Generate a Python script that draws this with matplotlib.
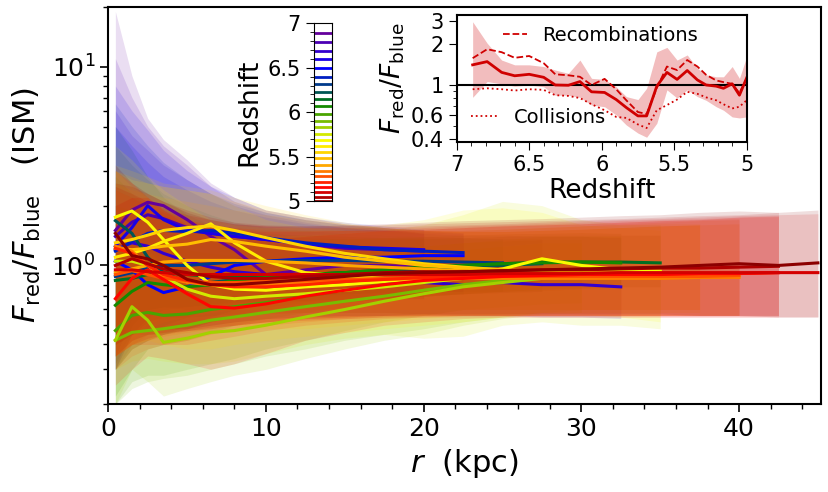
import numpy as np
import matplotlib
matplotlib.use('Agg')
from matplotlib import pyplot as plt
from matplotlib.colors import LinearSegmentedColormap, Normalize
from matplotlib.ticker import MultipleLocator, FixedLocator, NullFormatter

# snapshot redshifts (high -> low)
redshift = [6.89, 6.79, 6.69, 6.60, 6.50, 6.40, 6.32, 6.23, 6.15, 6.07, 5.98, 5.90, 5.83,
            5.75, 5.69, 5.62, 5.55, 5.48, 5.41, 5.34, 5.28, 5.21, 5.16, 5.10, 5.05, 5.00]

# radial bins (kpc); each profile uses the first len(profile) bins
radius = [0.45, 1.5, 2.5, 3.5, 5, 6.5, 8, 10, 12.5, 15, 17.5, 20, 22.5, 25, 27.5, 30,
          32.5, 35, 37.5, 40, 42.5, 45]

# median F_red/F_blue profile per snapshot
ratio_med = [
    [1.50, 1.90, 2.08, 2.00, 1.70, 1.40, 1.20, 0.90, 0.95, 1.00, 1.00, 0.98],
    [1.40, 1.65, 1.80, 1.72, 1.55, 1.45, 1.40, 1.35, 1.28, 1.22, 1.20, 1.18],
    [1.20, 1.30, 1.25, 1.15, 1.05, 0.98, 0.93, 0.90, 0.88, 0.85, 0.83, 0.82, 0.80, 0.82, 0.80, 0.80, 0.78],
    [1.25, 1.55, 2.00, 1.70, 1.50, 1.45, 1.40, 1.35, 1.28, 1.24, 1.22, 1.20],
    [1.05, 0.95, 0.80, 0.73, 0.78, 0.88, 1.00, 1.05, 1.08, 1.10, 1.10, 1.12, 1.12],
    [1.18, 1.32, 1.45, 1.50, 1.48, 1.50, 1.45, 1.38, 1.30, 1.25, 1.20, 1.18, 1.16],
    [0.88, 0.92, 0.98, 1.00, 1.00, 1.02, 1.04, 1.05, 1.06, 1.06, 1.05, 1.05, 1.04, 1.03],
    [1.68, 1.45, 1.10, 0.92, 0.82, 0.82, 0.85, 0.88, 0.90, 0.92, 0.94, 0.96, 0.98, 1.00, 1.02],
    [0.84, 0.86, 0.90, 0.92, 0.90, 0.88, 0.88, 0.88, 0.90, 0.92, 0.95, 0.98, 1.00, 1.02, 1.04, 1.04, 1.04, 1.03],
    [0.63, 0.74, 0.82, 0.80, 0.78, 0.80, 0.84, 0.87, 0.90, 0.92, 0.95, 0.98, 1.00, 1.02, 1.03, 1.04, 1.03],
    [0.47, 0.56, 0.58, 0.56, 0.57, 0.60, 0.62, 0.65, 0.70, 0.75, 0.80, 0.85, 0.88, 0.90, 0.92, 0.92],
    [0.42, 0.46, 0.47, 0.48, 0.50, 0.53, 0.55, 0.58, 0.62, 0.66, 0.70, 0.75, 0.80, 0.84, 0.87, 0.88, 0.88],
    [0.42, 0.62, 0.53, 0.41, 0.43, 0.46, 0.47, 0.50, 0.55, 0.60, 0.66, 0.72, 0.78, 0.82, 0.86, 0.88],
    [1.05, 1.05, 1.00, 0.88, 0.76, 0.70, 0.68, 0.70, 0.72, 0.75, 0.78, 0.82, 0.86, 0.90, 0.94, 0.95, 0.95, 0.94],
    [1.75, 1.88, 1.65, 1.35, 1.00, 0.80, 0.76, 0.75, 0.78, 0.80, 0.83, 0.86, 0.90, 0.96, 1.08, 1.00, 0.95, 0.93],
    [1.10, 1.15, 1.22, 1.32, 1.45, 1.62, 1.30, 1.05, 0.92, 0.88, 0.86, 0.86, 0.88, 0.88, 0.90, 0.90, 0.90, 0.90, 0.90],
    [1.30, 1.35, 1.42, 1.50, 1.55, 1.58, 1.50, 1.38, 1.25, 1.15, 1.08, 1.02, 0.98, 0.95, 0.92, 0.90, 0.90, 0.89, 0.89],
    [1.22, 1.20, 1.22, 1.25, 1.28, 1.35, 1.32, 1.25, 1.18, 1.10, 1.05, 1.00, 0.97, 0.95, 0.93, 0.92, 0.91, 0.90, 0.90],
    [0.92, 0.96, 1.00, 1.04, 1.06, 1.06, 1.06, 1.05, 1.03, 1.00, 0.98, 0.96, 0.94, 0.92, 0.90, 0.89, 0.88, 0.88, 0.88, 0.88],
    [1.25, 1.18, 1.00, 0.88, 0.82, 0.80, 0.80, 0.80, 0.82, 0.84, 0.85, 0.86, 0.86, 0.86, 0.86, 0.86, 0.86, 0.86, 0.87, 0.87],
    [0.90, 0.94, 0.90, 0.86, 0.84, 0.82, 0.82, 0.83, 0.84, 0.85, 0.86, 0.87, 0.87, 0.88, 0.88, 0.88, 0.88, 0.88, 0.88, 0.89],
    [1.22, 1.15, 1.00, 0.90, 0.84, 0.80, 0.78, 0.78, 0.80, 0.83, 0.85, 0.87, 0.88, 0.90, 0.90, 0.90, 0.91, 0.91, 0.91, 0.91, 0.92],
    [0.68, 0.86, 0.95, 0.85, 0.72, 0.62, 0.61, 0.64, 0.70, 0.75, 0.80, 0.84, 0.86, 0.88, 0.89, 0.90, 0.90, 0.90, 0.91, 0.91, 0.92],
    [0.95, 0.95, 0.93, 0.92, 0.90, 0.90, 0.90, 0.90, 0.90, 0.90, 0.90, 0.90, 0.90, 0.91, 0.91, 0.91, 0.92, 0.92, 0.92, 0.92, 0.92, 0.92],
    [1.00, 1.08, 1.02, 0.96, 0.92, 0.88, 0.86, 0.86, 0.88, 0.90, 0.92, 0.93, 0.93, 0.94, 0.95, 0.95, 0.96, 0.97, 0.97, 0.98, 0.99],
    [1.45, 1.12, 1.08, 1.00, 0.85, 0.80, 0.80, 0.82, 0.85, 0.88, 0.91, 0.92, 0.93, 0.94, 0.95, 0.96, 0.97, 0.98, 1.00, 1.02, 1.00, 1.03],
]

# upper envelope of the scatter
ratio_hi = [
    [19, 9.0, 5.5, 4.3, 3.4, 2.6, 2.2, 1.9, 1.75, 1.62, 1.55, 1.45],
    [11, 7.0, 5.0, 4.0, 3.2, 2.5, 2.1, 1.85, 1.7, 1.6, 1.52, 1.45],
    [6.0, 4.5, 3.8, 3.2, 2.7, 2.3, 2.0, 1.8, 1.65, 1.55, 1.5, 1.45, 1.42, 1.42, 1.4, 1.4, 1.38],
    [8.0, 6.0, 4.8, 3.8, 3.0, 2.5, 2.2, 1.9, 1.75, 1.65, 1.58, 1.52],
    [5.0, 4.0, 3.3, 2.8, 2.4, 2.1, 1.9, 1.75, 1.62, 1.55, 1.5, 1.48, 1.45],
    [6.5, 5.0, 4.0, 3.3, 2.7, 2.3, 2.05, 1.85, 1.7, 1.6, 1.55, 1.5, 1.46],
    [4.0, 3.2, 2.7, 2.3, 2.0, 1.8, 1.65, 1.55, 1.5, 1.45, 1.42, 1.4, 1.38, 1.36],
    [5.0, 3.8, 2.8, 2.2, 1.8, 1.6, 1.5, 1.45, 1.42, 1.4, 1.38, 1.37, 1.36, 1.36, 1.36],
    [2.8, 2.3, 2.0, 1.8, 1.6, 1.5, 1.45, 1.4, 1.38, 1.36, 1.36, 1.37, 1.38, 1.4, 1.42, 1.42, 1.42, 1.42],
    [2.0, 1.9, 1.8, 1.65, 1.5, 1.42, 1.38, 1.35, 1.35, 1.36, 1.38, 1.4, 1.42, 1.44, 1.45, 1.46, 1.45],
    [1.6, 1.5, 1.4, 1.3, 1.2, 1.15, 1.12, 1.1, 1.12, 1.15, 1.2, 1.25, 1.3, 1.33, 1.35, 1.35],
    [1.2, 1.2, 1.15, 1.1, 1.05, 1.05, 1.05, 1.08, 1.12, 1.16, 1.2, 1.25, 1.3, 1.35, 1.4, 1.4, 1.4],
    [1.3, 1.35, 1.2, 1.0, 0.95, 0.95, 0.95, 0.98, 1.0, 1.05, 1.1, 1.15, 1.2, 1.25, 1.3, 1.3],
    [3.0, 2.5, 2.2, 1.9, 1.6, 1.45, 1.4, 1.4, 1.42, 1.45, 1.5, 1.6, 1.8, 2.1, 2.0, 1.7, 1.6, 1.6],
    [4.0, 3.4, 2.8, 2.4, 2.0, 1.7, 1.6, 1.55, 1.55, 1.55, 1.6, 1.7, 1.9, 1.95, 1.85, 1.6, 1.55, 1.5],
    [3.0, 2.7, 2.6, 2.5, 2.4, 2.3, 2.0, 1.7, 1.55, 1.5, 1.48, 1.48, 1.5, 1.52, 1.55, 1.58, 1.6, 1.62, 1.62],
    [3.2, 3.0, 2.8, 2.6, 2.5, 2.4, 2.2, 2.0, 1.8, 1.65, 1.55, 1.5, 1.48, 1.48, 1.5, 1.52, 1.55, 1.58, 1.6],
    [3.0, 2.8, 2.6, 2.5, 2.4, 2.3, 2.1, 1.9, 1.75, 1.62, 1.55, 1.5, 1.48, 1.48, 1.5, 1.52, 1.55, 1.58, 1.6],
    [2.6, 2.4, 2.3, 2.2, 2.1, 2.0, 1.9, 1.8, 1.7, 1.62, 1.55, 1.5, 1.48, 1.48, 1.5, 1.52, 1.55, 1.58, 1.6, 1.62],
    [3.0, 2.6, 2.2, 1.9, 1.7, 1.6, 1.55, 1.52, 1.5, 1.5, 1.5, 1.5, 1.5, 1.52, 1.55, 1.58, 1.62, 1.65, 1.68, 1.7],
    [2.4, 2.2, 2.0, 1.85, 1.7, 1.6, 1.55, 1.5, 1.5, 1.5, 1.5, 1.52, 1.55, 1.58, 1.6, 1.62, 1.65, 1.68, 1.7, 1.72],
    [3.0, 2.6, 2.2, 1.9, 1.7, 1.55, 1.5, 1.48, 1.48, 1.5, 1.52, 1.55, 1.58, 1.6, 1.62, 1.65, 1.68, 1.7, 1.72, 1.75, 1.76],
    [2.0, 2.2, 2.2, 1.9, 1.6, 1.4, 1.35, 1.35, 1.4, 1.45, 1.5, 1.52, 1.55, 1.58, 1.6, 1.62, 1.65, 1.68, 1.7, 1.75, 1.78],
    [2.5, 2.3, 2.1, 1.95, 1.8, 1.7, 1.62, 1.58, 1.55, 1.55, 1.56, 1.58, 1.6, 1.62, 1.65, 1.68, 1.7, 1.72, 1.75, 1.78, 1.8, 1.82],
    [2.6, 2.5, 2.3, 2.1, 1.9, 1.75, 1.65, 1.6, 1.58, 1.58, 1.6, 1.62, 1.64, 1.66, 1.68, 1.7, 1.72, 1.75, 1.78, 1.8, 1.85],
    [3.2, 2.6, 2.3, 2.1, 1.85, 1.7, 1.62, 1.58, 1.58, 1.6, 1.62, 1.65, 1.68, 1.7, 1.72, 1.75, 1.78, 1.8, 1.85, 1.88, 1.85, 1.9],
]

# lower envelope of the scatter
ratio_lo = [
    [0.35, 0.55, 0.6, 0.62, 0.6, 0.6, 0.62, 0.62, 0.65, 0.66, 0.68, 0.68],
    [0.3, 0.5, 0.6, 0.62, 0.62, 0.63, 0.64, 0.65, 0.66, 0.67, 0.68, 0.68],
    [0.3, 0.45, 0.52, 0.55, 0.55, 0.56, 0.57, 0.58, 0.58, 0.58, 0.58, 0.57, 0.56, 0.56, 0.55, 0.55, 0.54],
    [0.3, 0.45, 0.55, 0.6, 0.62, 0.64, 0.65, 0.66, 0.67, 0.68, 0.7, 0.7],
    [0.3, 0.38, 0.42, 0.45, 0.5, 0.55, 0.6, 0.65, 0.68, 0.7, 0.72, 0.72, 0.72],
    [0.32, 0.45, 0.55, 0.6, 0.62, 0.64, 0.66, 0.68, 0.7, 0.72, 0.73, 0.74, 0.74],
    [0.3, 0.4, 0.45, 0.5, 0.55, 0.6, 0.64, 0.68, 0.7, 0.72, 0.73, 0.74, 0.74, 0.74],
    [0.35, 0.45, 0.45, 0.45, 0.48, 0.52, 0.56, 0.6, 0.63, 0.66, 0.68, 0.7, 0.72, 0.73, 0.74],
    [0.3, 0.38, 0.42, 0.45, 0.48, 0.52, 0.55, 0.58, 0.62, 0.65, 0.68, 0.7, 0.72, 0.74, 0.76, 0.77, 0.78, 0.78],
    [0.22, 0.3, 0.38, 0.4, 0.42, 0.46, 0.5, 0.54, 0.58, 0.62, 0.66, 0.7, 0.72, 0.74, 0.75, 0.76, 0.76],
    [0.2, 0.26, 0.28, 0.28, 0.3, 0.32, 0.34, 0.38, 0.42, 0.47, 0.52, 0.56, 0.6, 0.62, 0.64, 0.65],
    [0.2, 0.24, 0.26, 0.27, 0.28, 0.3, 0.32, 0.35, 0.38, 0.42, 0.45, 0.48, 0.52, 0.55, 0.58, 0.6, 0.6],
    [0.2, 0.3, 0.26, 0.22, 0.24, 0.26, 0.28, 0.3, 0.34, 0.38, 0.42, 0.45, 0.5, 0.54, 0.57, 0.58],
    [0.3, 0.33, 0.34, 0.33, 0.32, 0.32, 0.33, 0.36, 0.4, 0.43, 0.45, 0.43, 0.44, 0.5, 0.52, 0.5, 0.5, 0.48],
    [0.35, 0.4, 0.42, 0.4, 0.38, 0.38, 0.4, 0.42, 0.44, 0.46, 0.48, 0.5, 0.52, 0.55, 0.58, 0.57, 0.55, 0.52],
    [0.35, 0.4, 0.45, 0.48, 0.5, 0.52, 0.5, 0.48, 0.48, 0.5, 0.52, 0.54, 0.56, 0.57, 0.58, 0.58, 0.58, 0.58, 0.58],
    [0.4, 0.45, 0.5, 0.55, 0.58, 0.6, 0.6, 0.6, 0.6, 0.6, 0.6, 0.6, 0.6, 0.6, 0.6, 0.6, 0.6, 0.6, 0.6],
    [0.35, 0.42, 0.48, 0.52, 0.55, 0.58, 0.6, 0.6, 0.6, 0.6, 0.6, 0.6, 0.6, 0.6, 0.6, 0.6, 0.6, 0.6, 0.6],
    [0.3, 0.38, 0.42, 0.46, 0.5, 0.52, 0.55, 0.57, 0.58, 0.58, 0.58, 0.57, 0.57, 0.56, 0.56, 0.56, 0.56, 0.56, 0.56, 0.56],
    [0.35, 0.4, 0.42, 0.44, 0.46, 0.48, 0.5, 0.52, 0.54, 0.55, 0.56, 0.56, 0.56, 0.56, 0.56, 0.56, 0.56, 0.56, 0.56, 0.56],
    [0.3, 0.35, 0.38, 0.4, 0.42, 0.45, 0.48, 0.5, 0.52, 0.54, 0.55, 0.56, 0.56, 0.56, 0.56, 0.56, 0.56, 0.56, 0.56, 0.56],
    [0.35, 0.4, 0.4, 0.4, 0.4, 0.42, 0.44, 0.47, 0.5, 0.52, 0.54, 0.55, 0.56, 0.56, 0.56, 0.56, 0.56, 0.56, 0.56, 0.56, 0.56],
    [0.25, 0.3, 0.35, 0.34, 0.32, 0.3, 0.32, 0.36, 0.42, 0.46, 0.5, 0.52, 0.54, 0.55, 0.55, 0.55, 0.55, 0.55, 0.55, 0.55, 0.55],
    [0.35, 0.4, 0.43, 0.45, 0.47, 0.49, 0.5, 0.52, 0.53, 0.54, 0.55, 0.55, 0.55, 0.55, 0.55, 0.55, 0.55, 0.55, 0.55, 0.55, 0.55, 0.55],
    [0.35, 0.42, 0.45, 0.46, 0.47, 0.48, 0.5, 0.52, 0.54, 0.55, 0.56, 0.56, 0.56, 0.56, 0.56, 0.56, 0.56, 0.56, 0.56, 0.56, 0.56],
    [0.4, 0.45, 0.48, 0.48, 0.48, 0.5, 0.52, 0.54, 0.55, 0.56, 0.56, 0.57, 0.57, 0.57, 0.57, 0.57, 0.57, 0.57, 0.56, 0.56, 0.55, 0.55],
]

# inset: integrated ratio vs redshift
inset_total = [1.41, 1.49, 1.24, 1.17, 1.20, 1.14, 1.00, 0.995, 1.06, 0.89, 0.88, 0.78, 0.68,
               0.59, 0.59, 0.98, 1.24, 1.10, 1.28, 1.09, 1.00, 0.98, 0.945, 1.02, 0.84, 1.13]
inset_recomb = [1.58, 1.84, 1.75, 1.59, 1.64, 1.45, 1.20, 1.18, 1.15, 1.00, 1.11, 0.93, 0.77,
                0.63, 0.61, 0.95, 1.37, 1.29, 1.53, 1.37, 1.19, 1.08, 1.05, 1.02, 0.87, 1.12]
inset_coll = [0.93, 0.945, 0.93, 0.91, 0.93, 0.92, 0.84, 0.83, 0.80, 0.72, 0.65, 0.58, 0.57,
              0.51, 0.48, 0.65, 0.71, 0.78, 0.89, 0.86, 0.81, 0.77, 0.72, 0.67, 0.69, 0.77]
inset_hi = [2.94, 2.04, 1.53, 1.41, 1.41, 1.37, 1.29, 1.22, 1.53, 1.12, 1.10, 0.97, 0.82,
            0.78, 0.945, 1.76, 1.90, 1.53, 1.67, 1.33, 1.19, 1.15, 1.15, 1.37, 1.12, 1.62]
inset_lo = [0.81, 1.06, 1.02, 0.98, 1.00, 0.97, 0.84, 0.84, 0.81, 0.71, 0.69, 0.60, 0.505,
            0.44, 0.41, 0.52, 0.92, 0.80, 0.92, 0.82, 0.77, 0.69, 0.65, 0.58, 0.57, 0.58]

cmap = LinearSegmentedColormap.from_list('zmap', [(0.0, 'darkred'), (0.075, 'red'),
                                                  (0.2, 'orange'), (0.34, 'yellow'),
                                                  (0.55, 'green'), (0.75, 'blue'),
                                                  (1.0, 'purple')])
norm = Normalize(vmin=5, vmax=7)

fig = plt.figure(figsize=(8.29, 4.92), dpi=100)
ax = fig.add_axes([0.1306, 0.1783, 0.8598, 0.8075])

# shaded scatter first, then median lines on top
for z, lo, hi in zip(redshift, ratio_lo, ratio_hi):
    n = len(lo)
    ax.fill_between(radius[:n], lo, hi, color=cmap(norm(z)), alpha=0.13, lw=0)
for z, med in zip(redshift, ratio_med):
    n = len(med)
    ax.plot(radius[:n], med, color=cmap(norm(z)), lw=2.2)

ax.set_yscale('log')
ax.set_xlim(0, 45.2)
ax.set_ylim(0.2, 20)
ax.xaxis.set_major_locator(MultipleLocator(10))
ax.xaxis.set_minor_locator(MultipleLocator(2))
ax.tick_params(which='major', labelsize=18, length=6, width=1.2)
ax.tick_params(which='minor', length=3.5, width=1)
for s in ax.spines.values():
    s.set_linewidth(1.5)
ax.set_xlabel(r'$r$  (kpc)', fontsize=22)
ax.set_ylabel(r'$F_{\rm red}/F_{\rm blue}$   (ISM)', fontsize=22, labelpad=6)

# colour key drawn as one line per snapshot
cax = fig.add_axes([0.3788, 0.5915, 0.022, 0.3611])
for z in redshift:
    cax.axhline(z, color=cmap(norm(z)), lw=2)
cax.set_ylim(5, 7)
cax.set_xticks([])
cax.yaxis.set_minor_locator(MultipleLocator(0.1))
cax.set_yticks([5, 5.5, 6, 6.5, 7])
cax.set_yticklabels(['5', '5.5', '6', '6.5', '7'])
cax.tick_params(which='major', labelsize=15, length=6)
cax.tick_params(which='minor', length=3)
cax.set_ylabel('Redshift', fontsize=19)

# inset
ins = fig.add_axes([0.5509, 0.712, 0.3498, 0.2575])
ins.fill_between(redshift, inset_lo, inset_hi, color='#d62728', alpha=0.3, lw=0)
ins.axhline(1, color='k', lw=1.5)
l_tot, = ins.plot(redshift, inset_total, color='#d00000', lw=2)
l_rec, = ins.plot(redshift, inset_recomb, color='#d00000', lw=1.3, ls='--')
l_col, = ins.plot(redshift, inset_coll, color='#d00000', lw=1.3, ls=':')
ins.set_yscale('log')
ins.set_xlim(7, 5)
ins.set_ylim(0.38, 3.3)
ins.yaxis.set_major_locator(FixedLocator([0.4, 0.6, 1, 2, 3]))
ins.yaxis.set_minor_locator(FixedLocator([0.5, 0.7, 0.8, 0.9]))
ins.yaxis.set_minor_formatter(NullFormatter())
ins.set_yticklabels(['0.4', '0.6', '1', '2', '3'])
ins.xaxis.set_minor_locator(MultipleLocator(0.1))
ins.set_xticks([7, 6.5, 6, 5.5, 5])
ins.set_xticklabels(['7', '6.5', '6', '5.5', '5'])
ins.tick_params(which='major', labelsize=15, length=6)
ins.tick_params(which='minor', length=3)
ins.set_xlabel('Redshift', fontsize=19, labelpad=2)
ins.set_ylabel(r'$F_{\rm red}/F_{\rm blue}$', fontsize=19, labelpad=2)
for s in ins.spines.values():
    s.set_linewidth(1.5)

leg1 = ins.legend([l_rec], ['Recombinations'], loc='upper left', bbox_to_anchor=(0.1, 1.05),
                  frameon=False, fontsize=14, handlelength=1.2)
ins.add_artist(leg1)
ins.legend([l_col], ['Collisions'], loc='lower left', bbox_to_anchor=(-0.01, -0.02),
           frameon=False, fontsize=14, handlelength=1.4)

plt.savefig('out.png', dpi=100)
